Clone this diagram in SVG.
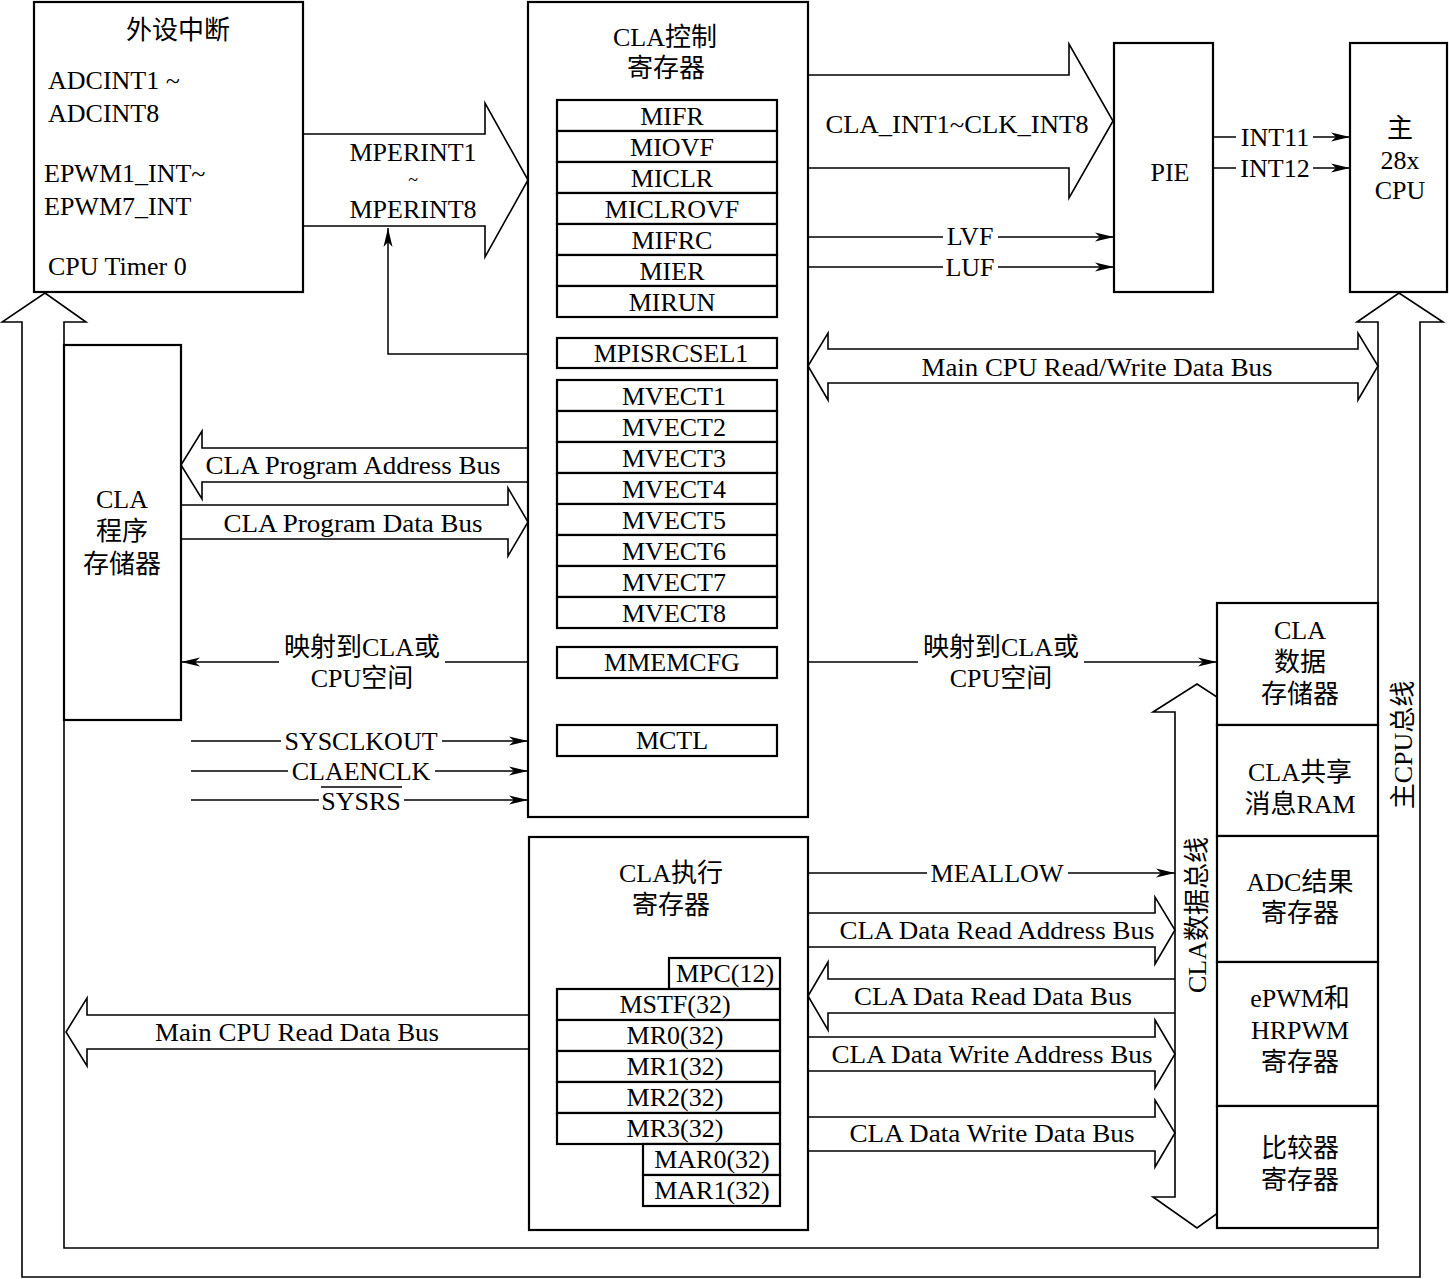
<svg xmlns="http://www.w3.org/2000/svg" width="1449" height="1279" viewBox="0 0 1449 1279">
<defs>
<marker id="ah" markerUnits="userSpaceOnUse" markerWidth="20" markerHeight="10" refX="19" refY="5" orient="auto">
<path d="M0,0.5 L19,5 L0,9.5 L5,5 Z" fill="#000"/>
</marker>
</defs>
<style>
.box{fill:#fff;stroke:#000;stroke-width:2.2}
.reg{fill:#fff;stroke:#000;stroke-width:2.2}
.ln{fill:none;stroke:#000;stroke-width:1.5}
.bus{fill:none;stroke:#000;stroke-width:1.6;stroke-linejoin:miter}
text{font-family:"Liberation Serif","Noto Sans CJK SC",serif;font-size:26px;fill:#000}
.c{text-anchor:middle}
.t{font-size:18px}
</style>
<rect width="1449" height="1279" fill="#fff"/>

<g id="connectors">
<!-- outer main CPU bus -->
<path class="bus" d="M64,322 V1248 H1378 V322 H1357 L1399,293 L1443,322 H1420 V1277 H22 V322 H2 L45,293 L86,322 Z"/>
<!-- MPERINT hollow arrow -->
<path class="bus" d="M303,134 H485 V103 L528,180 L485,257 V226 H303"/>
<!-- CLA_INT hollow arrow -->
<path class="bus" d="M808,75 H1069 V44 L1113,121 L1069,198 V168 H808"/>
<!-- Main CPU R/W data bus -->
<path class="bus" d="M828,349 H1358 V333 L1378,366 L1358,400 V383 H828 V400 L808,366 L828,333 Z"/>
<!-- CLA Program Address Bus -->
<path class="bus" d="M528,448 H202 V431 L181,465 L202,499 V482 H528"/>
<!-- CLA Program Data Bus -->
<path class="bus" d="M181,505 H508 V488 L528,522 L508,556 V539 H181"/>
<!-- Main CPU Read Data Bus -->
<path class="bus" d="M528,1015 H87 V998 L66,1032 L87,1066 V1049 H528"/>
<!-- CLA Data buses -->
<path class="bus" d="M808,913 H1155 V897 L1175,930 L1155,964 V947 H808"/>
<path class="bus" d="M1175,979 H828 V962 L808,996 L828,1030 V1013 H1175"/>
<path class="bus" d="M808,1037 H1155 V1020 L1175,1054 L1155,1088 V1071 H808"/>
<path class="bus" d="M808,1117 H1155 V1100 L1175,1133 L1155,1167 V1151 H808"/>
<!-- CLA data bus vertical -->
<path class="bus" d="M1217,712 H1240 L1197,684 L1153,712 H1175 V1197 H1153 L1197,1228 L1240,1197 H1217"/>
<!-- MPISRCSEL1 to MPERINT -->
<path class="ln" d="M557,354 H388 V228" marker-end="url(#ah)"/>
<!-- LVF / LUF -->
<line class="ln" x1="808" y1="237" x2="943" y2="237"/>
<line class="ln" x1="998" y1="237" x2="1114" y2="237" marker-end="url(#ah)"/>
<line class="ln" x1="808" y1="267" x2="943" y2="267"/>
<line class="ln" x1="998" y1="267" x2="1114" y2="267" marker-end="url(#ah)"/>
<!-- INT11 / INT12 -->
<line class="ln" x1="1213" y1="137" x2="1236" y2="137"/>
<line class="ln" x1="1313" y1="137" x2="1350" y2="137" marker-end="url(#ah)"/>
<line class="ln" x1="1213" y1="168" x2="1236" y2="168"/>
<line class="ln" x1="1313" y1="168" x2="1350" y2="168" marker-end="url(#ah)"/>
<!-- MMEMCFG -->
<line class="ln" x1="557" y1="662" x2="445" y2="662"/>
<line class="ln" x1="279" y1="662" x2="181" y2="662" marker-end="url(#ah)"/>
<line class="ln" x1="776" y1="662" x2="918" y2="662"/>
<line class="ln" x1="1084" y1="662" x2="1217" y2="662" marker-end="url(#ah)"/>
<!-- clocks -->
<line class="ln" x1="191" y1="741" x2="281" y2="741"/>
<line class="ln" x1="442" y1="741" x2="528" y2="741" marker-end="url(#ah)"/>
<line class="ln" x1="191" y1="771" x2="288" y2="771"/>
<line class="ln" x1="435" y1="771" x2="528" y2="771" marker-end="url(#ah)"/>
<line class="ln" x1="191" y1="800" x2="319" y2="800"/>
<line class="ln" x1="404" y1="800" x2="528" y2="800" marker-end="url(#ah)"/>
<!-- MEALLOW -->
<line class="ln" x1="808" y1="873" x2="927" y2="873"/>
<line class="ln" x1="1068" y1="873" x2="1175" y2="873" marker-end="url(#ah)"/>
</g>

<g id="connector-labels">
<text class="c" x="413" y="161">MPERINT1</text>
<text class="c t" x="413" y="186">~</text>
<text class="c" x="413" y="218">MPERINT8</text>
<text class="c" x="957" y="133" textLength="263" lengthAdjust="spacingAndGlyphs">CLA_INT1~CLK_INT8</text>
<text class="c" x="1275" y="146">INT11</text>
<text class="c" x="1275" y="177">INT12</text>
<text class="c" x="970" y="245">LVF</text>
<text class="c" x="970" y="276">LUF</text>
<text class="c" x="1097" y="376" textLength="351" lengthAdjust="spacingAndGlyphs">Main CPU Read/Write Data Bus</text>
<text class="c" x="353" y="474" textLength="295" lengthAdjust="spacingAndGlyphs">CLA Program Address Bus</text>
<text class="c" x="353" y="532" textLength="259" lengthAdjust="spacingAndGlyphs">CLA Program Data Bus</text>
<text class="c" x="362" y="656">映射到CLA或</text>
<text class="c" x="362" y="687">CPU空间</text>
<text class="c" x="1001" y="656">映射到CLA或</text>
<text class="c" x="1001" y="687">CPU空间</text>
<text class="c" x="361" y="750">SYSCLKOUT</text>
<text class="c" x="361" y="780">CLAENCLK</text>
<text class="c" x="361" y="810">SYSRS</text>
<line class="ln" x1="321" y1="787" x2="402" y2="787"/>
<text class="c" x="297" y="1041" textLength="284" lengthAdjust="spacingAndGlyphs">Main CPU Read Data Bus</text>
<text class="c" x="997" y="882">MEALLOW</text>
<text class="c" x="997" y="939" textLength="315" lengthAdjust="spacingAndGlyphs">CLA Data Read Address Bus</text>
<text class="c" x="993" y="1005" textLength="278" lengthAdjust="spacingAndGlyphs">CLA Data Read Data Bus</text>
<text class="c" x="992" y="1063" textLength="321" lengthAdjust="spacingAndGlyphs">CLA Data Write Address Bus</text>
<text class="c" x="992" y="1142" textLength="285" lengthAdjust="spacingAndGlyphs">CLA Data Write Data Bus</text>
<text class="c" transform="translate(1206,915) rotate(-90)">CLA数据总线</text>
<text class="c" transform="translate(1412,745) rotate(-90)">主CPU总线</text>
</g>

<g id="peripheral-interrupts">
<rect class="box" x="34" y="2" width="269" height="290"/>
<text class="c" x="178" y="39">外设中断</text>
<text x="48" y="89">ADCINT1 ~</text>
<text x="48" y="122">ADCINT8</text>
<text x="44" y="182">EPWM1_INT~</text>
<text x="44" y="215">EPWM7_INT</text>
<text x="48" y="275">CPU Timer 0</text>
</g>

<g id="cla-control-registers">
<rect class="box" x="528" y="2" width="280" height="815"/>
<text class="c" x="665" y="46">CLA控制</text>
<text class="c" x="666" y="77">寄存器</text>
<g id="reg-mifr"><rect class="reg" x="557" y="100" width="220" height="31"/><text class="c" x="672" y="125">MIFR</text></g>
<g id="reg-miovf"><rect class="reg" x="557" y="131" width="220" height="31"/><text class="c" x="672" y="156">MIOVF</text></g>
<g id="reg-miclr"><rect class="reg" x="557" y="162" width="220" height="31"/><text class="c" x="672" y="187">MICLR</text></g>
<g id="reg-miclrovf"><rect class="reg" x="557" y="193" width="220" height="31"/><text class="c" x="672" y="218">MICLROVF</text></g>
<g id="reg-mifrc"><rect class="reg" x="557" y="224" width="220" height="31"/><text class="c" x="672" y="249">MIFRC</text></g>
<g id="reg-mier"><rect class="reg" x="557" y="255" width="220" height="31"/><text class="c" x="672" y="280">MIER</text></g>
<g id="reg-mirun"><rect class="reg" x="557" y="286" width="220" height="31"/><text class="c" x="672" y="311">MIRUN</text></g>
<g id="reg-mpisrcsel1"><rect class="reg" x="557" y="338" width="220" height="30"/><text class="c" x="671" y="362">MPISRCSEL1</text></g>
<g id="reg-mvect1"><rect class="reg" x="557" y="380" width="220" height="31"/><text class="c" x="674" y="405">MVECT1</text></g>
<g id="reg-mvect2"><rect class="reg" x="557" y="411" width="220" height="31"/><text class="c" x="674" y="436">MVECT2</text></g>
<g id="reg-mvect3"><rect class="reg" x="557" y="442" width="220" height="31"/><text class="c" x="674" y="467">MVECT3</text></g>
<g id="reg-mvect4"><rect class="reg" x="557" y="473" width="220" height="31"/><text class="c" x="674" y="498">MVECT4</text></g>
<g id="reg-mvect5"><rect class="reg" x="557" y="504" width="220" height="31"/><text class="c" x="674" y="529">MVECT5</text></g>
<g id="reg-mvect6"><rect class="reg" x="557" y="535" width="220" height="31"/><text class="c" x="674" y="560">MVECT6</text></g>
<g id="reg-mvect7"><rect class="reg" x="557" y="566" width="220" height="31"/><text class="c" x="674" y="591">MVECT7</text></g>
<g id="reg-mvect8"><rect class="reg" x="557" y="597" width="220" height="31"/><text class="c" x="674" y="622">MVECT8</text></g>
<g id="reg-mmemcfg"><rect class="reg" x="557" y="647" width="220" height="31"/><text class="c" x="672" y="671">MMEMCFG</text></g>
<g id="reg-mctl"><rect class="reg" x="557" y="725" width="220" height="31"/><text class="c" x="672" y="749">MCTL</text></g>
</g>

<g id="pie">
<rect class="box" x="1114" y="43" width="99" height="249"/>
<text class="c" x="1170" y="181">PIE</text>
</g>

<g id="main-cpu">
<rect class="box" x="1350" y="43" width="97" height="249"/>
<text class="c" x="1400" y="137">主</text>
<text class="c" x="1400" y="169">28x</text>
<text class="c" x="1400" y="199">CPU</text>
</g>

<g id="cla-program-memory">
<rect class="box" x="64" y="345" width="117" height="375"/>
<text class="c" x="122" y="508">CLA</text>
<text class="c" x="122" y="540">程序</text>
<text class="c" x="122" y="573">存储器</text>
</g>

<g id="cla-execution-registers">
<rect class="box" x="529" y="837" width="279" height="393"/>
<text class="c" x="671" y="882">CLA执行</text>
<text class="c" x="671" y="914">寄存器</text>
<g id="reg-mpc"><rect class="reg" x="669" y="958" width="111" height="31"/><text class="c" x="725" y="982">MPC(12)</text></g>
<g id="reg-mstf"><rect class="reg" x="557" y="989" width="223" height="31"/><text class="c" x="675" y="1013">MSTF(32)</text></g>
<g id="reg-mr0"><rect class="reg" x="557" y="1020" width="223" height="31"/><text class="c" x="675" y="1044">MR0(32)</text></g>
<g id="reg-mr1"><rect class="reg" x="557" y="1051" width="223" height="31"/><text class="c" x="675" y="1075">MR1(32)</text></g>
<g id="reg-mr2"><rect class="reg" x="557" y="1082" width="223" height="31"/><text class="c" x="675" y="1106">MR2(32)</text></g>
<g id="reg-mr3"><rect class="reg" x="557" y="1113" width="223" height="31"/><text class="c" x="675" y="1137">MR3(32)</text></g>
<g id="reg-mar0"><rect class="reg" x="643" y="1144" width="137" height="31"/><text class="c" x="712" y="1168">MAR0(32)</text></g>
<g id="reg-mar1"><rect class="reg" x="643" y="1175" width="137" height="31"/><text class="c" x="712" y="1199">MAR1(32)</text></g>
</g>

<g id="cla-data-memory">
<rect class="box" x="1217" y="603" width="161" height="122"/>
<text class="c" x="1300" y="639">CLA</text>
<text class="c" x="1300" y="671">数据</text>
<text class="c" x="1300" y="703">存储器</text>
</g>
<g id="cla-msg-ram">
<rect class="box" x="1217" y="725" width="161" height="111"/>
<text class="c" x="1300" y="781">CLA共享</text>
<text class="c" x="1300" y="813">消息RAM</text>
</g>
<g id="adc-result">
<rect class="box" x="1217" y="836" width="161" height="126"/>
<text class="c" x="1300" y="891">ADC结果</text>
<text class="c" x="1300" y="922">寄存器</text>
</g>
<g id="epwm-hrpwm">
<rect class="box" x="1217" y="962" width="161" height="144"/>
<text class="c" x="1300" y="1007">ePWM和</text>
<text class="c" x="1300" y="1039">HRPWM</text>
<text class="c" x="1300" y="1071">寄存器</text>
</g>
<g id="comparator">
<rect class="box" x="1217" y="1106" width="161" height="122"/>
<text class="c" x="1300" y="1157">比较器</text>
<text class="c" x="1300" y="1189">寄存器</text>
</g>
</svg>
